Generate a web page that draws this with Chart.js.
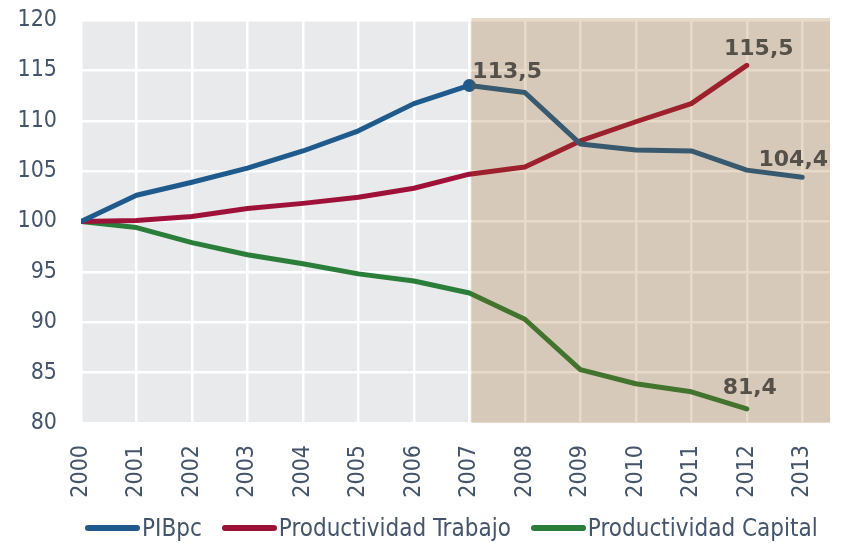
<!DOCTYPE html>
<html>
<head>
<meta charset="utf-8">
<script src="https://cdn.jsdelivr.net/npm/chart.js@4"></script>
<style>
    body { margin: 0; background: #fff; }
    #wrap { position: relative; width: 841px; height: 543px; }
    #legend {
        position: absolute; left: 85px; top: 513px; height: 30px;
        display: flex; align-items: center;
        font-family: "DejaVu Sans Condensed", "DejaVu Sans", sans-serif;
        font-size: 24px; color: #44546A;
    }
    .item { display: flex; align-items: center; margin-right: 20px; }
    .swatch { width: 55px; height: 6px; border-radius: 3px; margin-right: 2px; }
</style>
</head>
<body>
<div id="wrap">
    <canvas id="chart" width="841" height="543"></canvas>
    <div id="legend"></div>
</div>
<script>
const years = [2000, 2001, 2002, 2003, 2004, 2005, 2006, 2007, 2008, 2009, 2010, 2011, 2012, 2013];
const pibpc = [100, 102.6, 103.9, 105.3, 107.0, 109.0, 111.7, 113.5, 112.8, 107.7, 107.1, 107.0, 105.1, 104.4];
const prodTrabajo = [100, 100.1, 100.5, 101.3, 101.8, 102.4, 103.3, 104.7, 105.4, 108.0, 109.9, 111.7, 115.5];
const prodCapital = [100, 99.4, 97.9, 96.7, 95.8, 94.8, 94.1, 92.9, 90.3, 85.3, 83.9, 83.1, 81.4];
const yTicks = [80, 85, 90, 95, 100, 105, 110, 115, 120];
const crisisStart = 2007;

const FONT = '"DejaVu Sans Condensed", "DejaVu Sans", sans-serif';
const TICK_COLOR = '#44546A';

// which values get a bold label, and where it sits relative to the point
const callouts = [
    { ds: 0, idx: 7, dx: 3, dy: -13, align: 'left' },
    { ds: 1, idx: 12, dx: 12, dy: -16, align: 'center' },
    { ds: 0, idx: 13, dx: -9, dy: -17, align: 'center' },
    { ds: 2, idx: 12, dx: 3, dy: -21, align: 'center' }
];

function toPoints(values) {
    return values.map((v, i) => ({ x: years[i], y: v }));
}

const shadePlugin = {
    id: 'shade',
    beforeDraw(chart) {
        const { ctx, chartArea: a } = chart;
        ctx.save();
        ctx.fillStyle = '#E9EAEC';
        ctx.fillRect(a.left, a.top, a.right - a.left, a.bottom - a.top);
        ctx.restore();
    },
    afterDatasetsDraw(chart) {
        const { ctx, chartArea: a, scales } = chart;
        const x0 = scales.x.getPixelForValue(crisisStart) + 2;
        ctx.save();
        ctx.fillStyle = 'rgba(150, 88, 5, 0.22)';
        ctx.fillRect(x0, a.top - 2, a.right - x0, a.bottom - a.top + 2);

        // value callouts
        ctx.font = 'bold 22px "DejaVu Sans", sans-serif';
        ctx.fillStyle = '#55514A';
        ctx.textBaseline = 'middle';
        callouts.forEach(c => {
            const el = chart.getDatasetMeta(c.ds).data[c.idx];
            const v = chart.data.datasets[c.ds].data[c.idx].y;
            ctx.textAlign = c.align;
            ctx.fillText(v.toFixed(1).replace('.', ','), el.x + c.dx, el.y + c.dy);
        });
        ctx.restore();
    }
};

const chart = new Chart(document.getElementById('chart'), {
    type: 'line',
    data: {
        datasets: [
            {
                label: 'PIBpc',
                data: toPoints(pibpc),
                borderColor: '#1F5A8C',
                backgroundColor: '#1F5A8C',
                borderWidth: 5,
                pointRadius: ctx => (years[ctx.dataIndex] === crisisStart ? 6.5 : 0),
                pointBorderWidth: 0
            },
            {
                label: 'Productividad Trabajo',
                data: toPoints(prodTrabajo),
                borderColor: '#9E1239',
                backgroundColor: '#9E1239',
                borderWidth: 5,
                pointRadius: 0
            },
            {
                label: 'Productividad Capital',
                data: toPoints(prodCapital),
                borderColor: '#2B7D3A',
                backgroundColor: '#2B7D3A',
                borderWidth: 5,
                pointRadius: 0
            }
        ]
    },
    options: {
        responsive: false,
        animation: false,
        layout: { padding: { top: 20, right: 11, left: 0, bottom: 0 } },
        plugins: {
            legend: { display: false },
            tooltip: { enabled: false }
        },
        elements: { line: { borderCapStyle: 'round', borderJoinStyle: 'round', tension: 0 } },
        scales: {
            x: {
                type: 'linear',
                min: years[0],
                max: years[years.length - 1] + 0.5,
                afterBuildTicks: s => { s.ticks = years.map(v => ({ value: v })); },
                afterFit: s => { s.height = 120; },
                grid: { color: '#FFFFFF', lineWidth: 2.5, tickLength: 20, tickColor: 'rgba(0,0,0,0)' },
                border: { display: false },
                ticks: {
                    minRotation: 90,
                    maxRotation: 90,
                    padding: 2,
                    color: TICK_COLOR,
                    font: { family: FONT, size: 23 },
                    callback: v => String(v)
                }
            },
            y: {
                min: yTicks[0],
                max: yTicks[yTicks.length - 1],
                afterBuildTicks: s => { s.ticks = yTicks.map(v => ({ value: v })); },
                afterFit: s => { s.width = 81; },
                grid: { color: '#FFFFFF', lineWidth: 2.5, tickLength: 22, tickColor: 'rgba(0,0,0,0)' },
                border: { display: false },
                ticks: {
                    padding: 2,
                    color: TICK_COLOR,
                    font: { family: FONT, size: 23 }
                }
            }
        }
    },
    plugins: [shadePlugin]
});

// html legend built from the chart's datasets
const legendEl = document.getElementById('legend');
chart.data.datasets.forEach(ds => {
    const item = document.createElement('div');
    item.className = 'item';
    item.innerHTML = `<span class="swatch" style="background:${ds.borderColor}"></span><span>${ds.label}</span>`;
    legendEl.appendChild(item);
});
</script>
</body>
</html>
